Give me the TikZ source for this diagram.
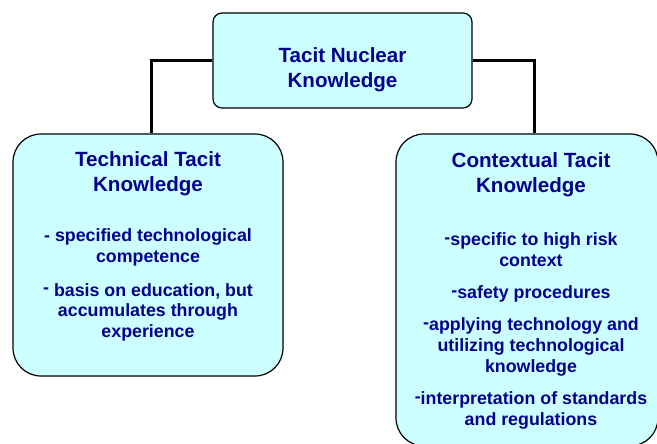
\documentclass[tikz,border=0pt]{standalone}
\usepackage{fontspec}
\setmainfont{Liberation Sans}
\usetikzlibrary{
    positioning,
    calc
}
\definecolor{boxfill}{RGB}{204,255,255}
\definecolor{navytext}{RGB}{0,0,140}
\newcommand{\updash}{\raisebox{0.25ex}{-}}

\begin{document}
\begin{tikzpicture}[
    x=1pt, y=-1pt,
    box/.style={
        draw, rectangle, line width=1.2pt, fill=boxfill, inner sep=0pt
    },
    heading/.style={
        inner sep=0pt, align=center, text=navytext,
        font=\fontsize{20.6}{24.5}\selectfont\bfseries
    },
    points/.style={
        inner sep=0pt, align=center, text=navytext,
        font=\fontsize{17.8}{20.8}\selectfont\bfseries
    },
    link/.style={line width=3pt}
]

\useasboundingbox (0,0) rectangle (657,444);

% ============================== BOXES ==============================
\node[box, rounded corners=9pt, minimum width=259pt, minimum height=95pt] (nuclear) at (342.5,60.5) {};
\node[box, rounded corners=28pt, minimum width=270pt, minimum height=242pt] (technical) at (148,255) {};
\node[box, rounded corners=28pt, minimum width=262pt, minimum height=312pt] (contextual) at (527,290) {};

% ============================== CONNECTORS ==============================
\draw[link] (nuclear.west) -| ([xshift=3pt]technical.north);
\draw[link] (nuclear.east) -| ([xshift=7pt]contextual.north);

% ============================== TEXTS ==============================
\node[heading, below=35pt of nuclear.north] (nuclear_title) {Tacit Nuclear\\Knowledge};

\node[heading, below=18pt of technical.north] (technical_title) {Technical Tacit\\Knowledge};
\node[points, below=95pt of technical.north] (technical_points) {- specified technological\\competence\\[13pt]
    \updash\ basis on education, but\\accumulates through\\experience};

\node[heading, below=19pt of contextual.north, xshift=4pt] (contextual_title) {Contextual Tacit\\Knowledge};
\node[points, below=99pt of contextual.north, xshift=4pt] (contextual_points) {\updash specific to high risk\\context\\[11.5pt]
    \updash safety procedures\\[11.5pt]
    \updash applying technology and\\utilizing technological\\knowledge\\[11.5pt]
    \updash interpretation of standards\\and regulations};

\end{tikzpicture}
\end{document}
